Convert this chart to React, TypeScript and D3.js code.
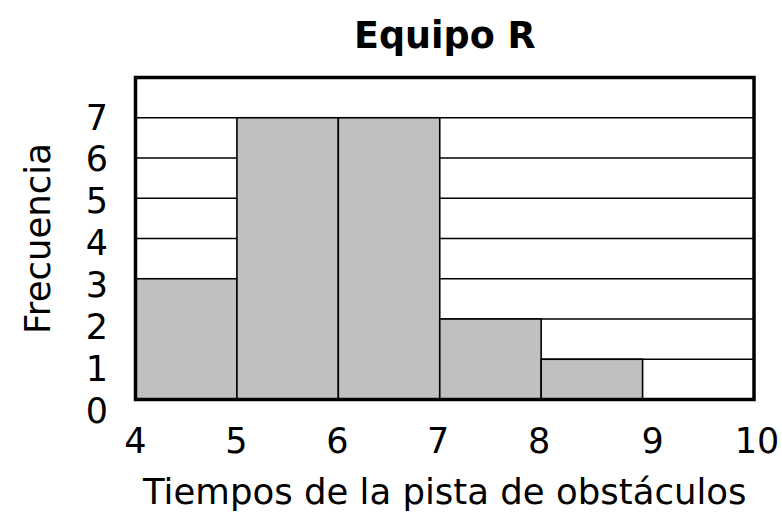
import React from "react";
import * as d3 from "d3";

const binStarts = [4, 5, 6, 7, 8, 9];
const binWidth = 1;
const frequencies = [3, 7, 7, 2, 1, 0];
const xTickValues = [4, 5, 6, 7, 8, 9, 10];
const yTickValues = [0, 1, 2, 3, 4, 5, 6, 7];
const gridValues = [1, 2, 3, 4, 5, 6, 7];
const title = "Equipo R";
const xTitle = "Tiempos de la pista de obstáculos";
const yTitle = "Frecuencia";

const W = 782;
const H = 515;
const FONT = "'DejaVu Sans', Verdana, sans-serif";

export default function App() {
  const left = 135.5;
  const right = 754;
  const top = 77.5;
  const bottom = 399.5;

  const x = d3.scaleLinear().domain([4, 10]).range([left, 744]);
  const y = d3.scaleLinear().domain([0, 8]).range([bottom, top]);
  // label placement scales (labels drift slightly from the grid in the reference)
  const xl = d3.scaleLinear().domain([4, 8, 9, 10]).range([x(4), x(8) - 2, x(9) + 10, right + 3]);
  const yl = d3.scaleLinear().domain([0, 7]).range([410, 117]);

  const cx = (left + right) / 2;

  return (
    <svg
      width={W}
      height={H}
      viewBox={`0 0 ${W} ${H}`}
      style={{ position: "absolute", left: 0, top: 0, background: "#fff" }}
      fontFamily={FONT}
    >
      <rect x={0} y={0} width={W} height={H} fill="#fff" />
      <text x={cx} y={48} textAnchor="middle" fontSize={36.5} fontWeight="bold" fill="#000">
        {title}
      </text>
      {gridValues.map((v) => (
        <line key={v} x1={left} x2={right} y1={y(v)} y2={y(v)} stroke="#000" strokeWidth={1.5} />
      ))}
      {binStarts.map((b, i) =>
        frequencies[i] > 0 ? (
          <rect
            key={b}
            x={x(b)}
            y={y(frequencies[i])}
            width={x(b + binWidth) - x(b)}
            height={y(0) - y(frequencies[i])}
            fill="#c0c0c0"
            stroke="#000"
            strokeWidth={1.6}
          />
        ) : null
      )}
      <rect
        x={left}
        y={top}
        width={right - left}
        height={bottom - top}
        fill="none"
        stroke="#000"
        strokeWidth={3.5}
      />
      {yTickValues.map((v) => (
        <text key={v} x={108} y={yl(v) + 12.5} textAnchor="end" fontSize={35} fill="#000">
          {v}
        </text>
      ))}
      {xTickValues.map((v) => (
        <text key={v} x={xl(v)} y={453} textAnchor="middle" fontSize={35} fill="#000">
          {v}
        </text>
      ))}
      <text x={cx} y={504} textAnchor="middle" fontSize={35.5} fill="#000">
        {xTitle}
      </text>
      <text
        transform={`translate(50, ${(top + bottom) / 2}) rotate(-90)`}
        textAnchor="middle"
        fontSize={35.5}
        fill="#000"
      >
        {yTitle}
      </text>
    </svg>
  );
}
